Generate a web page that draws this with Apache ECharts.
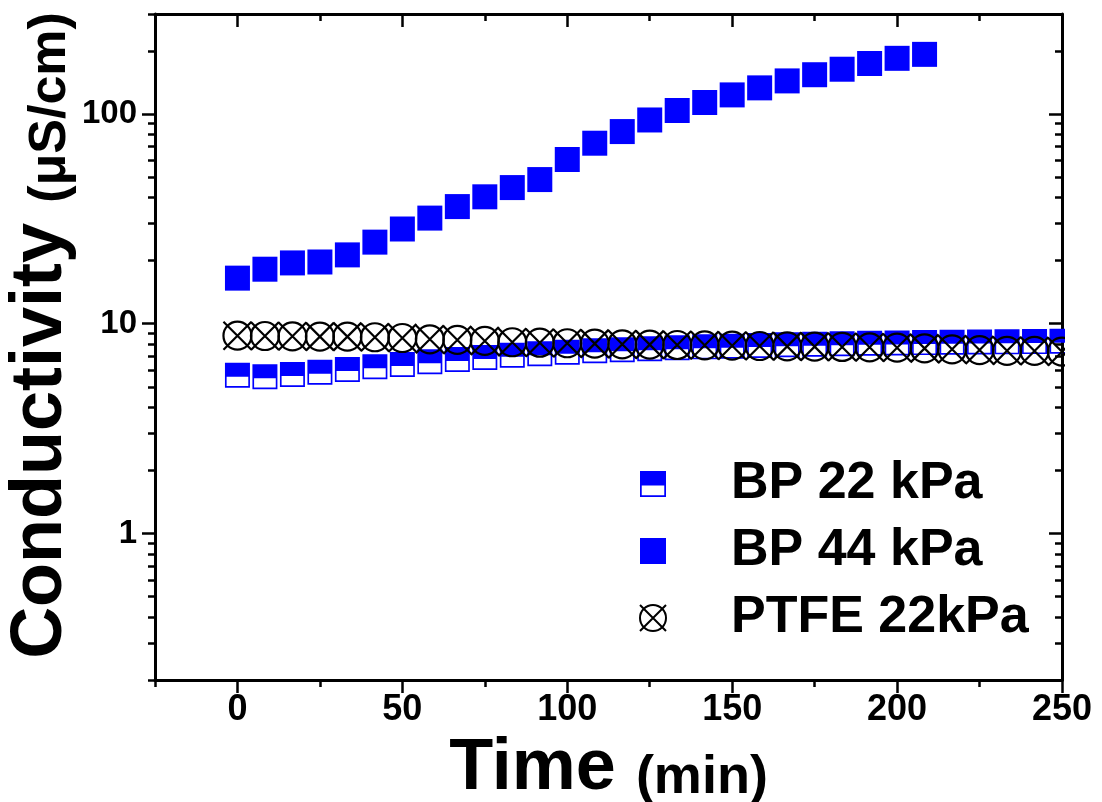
<!DOCTYPE html>
<html>
<head>
<meta charset="utf-8">
<script src="https://cdn.jsdelivr.net/npm/echarts@6/dist/echarts.min.js"></script>
<style>
  html, body { margin: 0; padding: 0; background: #fff; }
  #chart { width: 1102px; height: 802px; }
</style>
</head>
<body>
<div id="chart"></div>
<script>
// ---- data ----
const timesMin = [0, 8.33, 16.67, 25, 33.33, 41.67, 50, 58.33, 66.67, 75, 83.33, 91.67, 100, 108.33, 116.67, 125,
  133.33, 141.67, 150, 158.33, 166.67, 175, 183.33, 191.67, 200, 208.33, 216.67, 225, 233.33, 241.67, 250];
const bp22 = [5.68, 5.59, 5.73, 5.87, 6.05, 6.24, 6.40, 6.59, 6.76, 6.91, 7.08, 7.19, 7.32, 7.44, 7.52, 7.60,
  7.68, 7.76, 7.82, 7.88, 7.94, 7.99, 8.03, 8.07, 8.10, 8.13, 8.16, 8.18, 8.20, 8.22, 8.25];
const bp44 = [16.5, 18.2, 19.5, 19.7, 21.3, 24.5, 28.3, 31.9, 36.2, 40.3, 44.6, 48.7, 60.7, 72.6, 82.5, 93.7,
  104, 113.5, 123.4, 133.3, 143.9, 154, 163.6, 174.2, 184.4, 192.6];
const ptfe = [8.77, 8.74, 8.71, 8.68, 8.68, 8.62, 8.55, 8.43, 8.37, 8.28, 8.16, 8.12, 8.07, 8.04, 7.98, 7.95,
  7.92, 7.89, 7.86, 7.83, 7.80, 7.78, 7.75, 7.72, 7.69, 7.63, 7.55, 7.49, 7.43, 7.42, 7.36];
const seriesNames = ['BP 22 kPa', 'BP 44 kPa', 'PTFE 22kPa'];
const xMajorTicks = [0, 50, 100, 150, 200, 250];
const xMinorTicks = [-25, 25, 75, 125, 175, 225];
const yMajorTicks = [1, 10, 100];
const yMinorTicks = [0.2, 0.3, 0.4, 0.5, 0.6, 0.7, 0.8, 0.9, 2, 3, 4, 5, 6, 7, 8, 9,
  20, 30, 40, 50, 60, 70, 80, 90, 200, 300];
const xRange = [-25, 250];
const yRange = [0.2, 300];

// ---- chart ----
const FONT = '"Liberation Sans", Arial, sans-serif';
const BLUE = '#0000ff';
const halfSquare = 'path://M0,0 L75,0 L75,75 L0,75 Z M5,42 L5,70 L70,70 L70,42 Z';
const fullSquare = 'path://M0,0 L75,0 L75,75 L0,75 Z';
const circleX = 'path://M1,14 A13,13 0 1,1 27,14 A13,13 0 1,1 1,14 Z M1,1 L27,27 M27,1 L1,27';

const pair = (xs, ys) => ys.map((v, i) => [xs[i], v]);
const lg = v => Math.log10(v);
const yLogMin = lg(yRange[0]), yLogMax = lg(yRange[1]);

const axisLineStyle = { color: '#000', width: 3 };
function xHelper(position, ticks, len, inside, showLine) {
  return {
    type: 'value', position, min: xRange[0], max: xRange[1],
    axisLine: { show: showLine, onZero: false, lineStyle: axisLineStyle },
    axisTick: { show: true, inside, length: len, customValues: ticks, lineStyle: { color: '#000', width: 2.5 } },
    axisLabel: { show: false }, splitLine: { show: false }
  };
}
function yHelper(position, ticks, len, inside, showLine) {
  return {
    type: 'value', position, min: yLogMin, max: yLogMax,
    axisLine: { show: showLine, onZero: false, lineStyle: axisLineStyle },
    axisTick: { show: true, inside, length: len, customValues: ticks.map(lg), lineStyle: { color: '#000', width: 2.5 } },
    axisLabel: { show: false }, splitLine: { show: false }
  };
}

const xMain = xHelper('bottom', xMajorTicks, 13, false, true);
xMain.axisLabel = {
  show: true, customValues: xMajorTicks, margin: 12,
  fontFamily: FONT, fontWeight: 'bold', fontSize: 36, color: '#000'
};
xMain.name = '{a|Time }{b|(min)}';
xMain.nameLocation = 'middle';
xMain.nameGap = 50;
xMain.nameTextStyle = {
  rich: {
    a: { fontFamily: FONT, fontWeight: 'bold', fontSize: 72, color: '#000', verticalAlign: 'bottom' },
    b: { fontFamily: FONT, fontWeight: 'bold', fontSize: 54, color: '#000', verticalAlign: 'bottom' }
  }
};

const yLabels = yHelper('left', yMajorTicks, 13, false, false);
yLabels.axisLabel = {
  show: true, customValues: yMajorTicks.map(lg), margin: 18,
  formatter: v => String(Math.round(Math.pow(10, v))),
  fontFamily: FONT, fontWeight: 'bold', fontSize: 33, color: '#000'
};

const option = {
  animation: false,
  backgroundColor: '#fff',
  grid: { left: 155, right: 40, top: 14, bottom: 122, containLabel: false, outerBoundsMode: 'none' },
  legend: {
    orient: 'vertical', left: 634, top: 453, itemGap: 15,
    itemWidth: 146, itemHeight: 26, symbolKeepAspect: true,
    textStyle: { fontFamily: FONT, fontWeight: 'bold', fontSize: 52, color: '#000' },
    data: [
      { name: seriesNames[0], icon: halfSquare },
      { name: seriesNames[1], icon: fullSquare },
      { name: seriesNames[2], icon: circleX }
    ],
    selectedMode: false
  },
  xAxis: [
    xMain,
    xHelper('bottom', xMinorTicks, 7, false, false),
    xHelper('top', xMajorTicks, 13, true, true),
    xHelper('top', xMinorTicks, 7, true, false)
  ],
  yAxis: [
    {
      type: 'log', position: 'left', min: yRange[0], max: yRange[1], logBase: 10,
      axisLine: { show: true, onZero: false, lineStyle: axisLineStyle },
      axisTick: { show: false }, axisLabel: { show: false }, splitLine: { show: false },
      minorTick: { show: false },
      name: '{a|Conductivity }{b|(μS/cm)}',
      nameLocation: 'middle', nameGap: 78,
      nameTextStyle: {
        padding: [0, 0, 0, 23],
        rich: {
          a: { fontFamily: FONT, fontWeight: 'bold', fontSize: 72, color: '#000', verticalAlign: 'bottom' },
          b: { fontFamily: FONT, fontWeight: 'bold', fontSize: 52, color: '#000', verticalAlign: 'bottom' }
        }
      }
    },
    yLabels,
    yHelper('left', yMinorTicks, 7, false, false),
    yHelper('right', yMajorTicks, 13, true, true),
    yHelper('right', yMinorTicks, 7, true, false)
  ],
  graphic: [
    { type: 'rect', right: 0, top: 0, z: 100, silent: true,
      shape: { width: 37, height: 679 }, style: { fill: '#fff' } }
  ],
  series: [
    {
      name: seriesNames[0], type: 'scatter', xAxisIndex: 0, yAxisIndex: 0,
      symbol: halfSquare, symbolSize: 25,
      itemStyle: { color: BLUE, opacity: 1 },
      emphasis: { disabled: true },
      data: pair(timesMin, bp22), z: 2
    },
    {
      name: seriesNames[1], type: 'scatter', xAxisIndex: 0, yAxisIndex: 0,
      symbol: fullSquare, symbolSize: 25,
      itemStyle: { color: BLUE, opacity: 1 },
      emphasis: { disabled: true },
      data: pair(timesMin, bp44), z: 3
    },
    {
      name: seriesNames[2], type: 'scatter', xAxisIndex: 0, yAxisIndex: 0,
      symbol: circleX, symbolSize: 28,
      itemStyle: { color: 'rgba(0,0,0,0)', borderColor: '#000', borderWidth: 2.2, opacity: 1 },
      emphasis: { disabled: true },
      data: pair(timesMin, ptfe), z: 4
    }
  ]
};

const chart = echarts.init(document.getElementById('chart'), null, { renderer: 'canvas' });
chart.setOption(option);
</script>
</body>
</html>
